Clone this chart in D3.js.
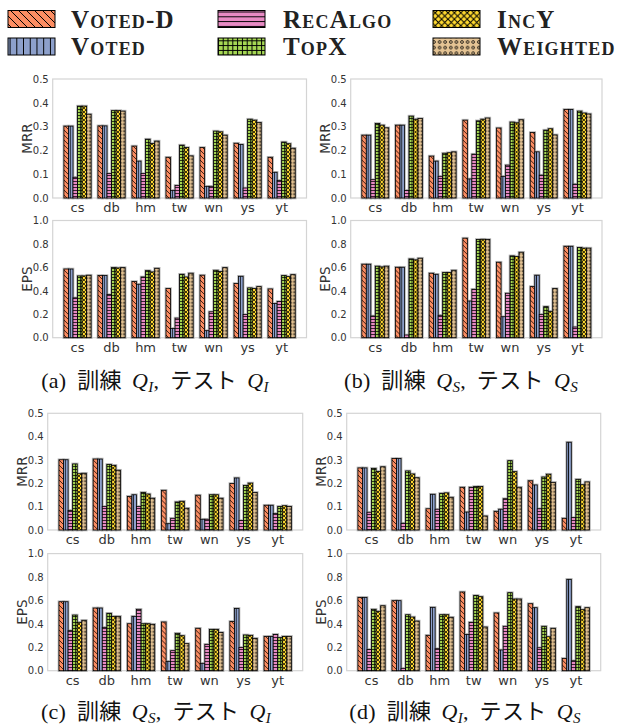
<!DOCTYPE html>
<html><head><meta charset="utf-8">
<script src="https://cdn.jsdelivr.net/npm/d3@7"></script>
<style>body{margin:0;background:#fff}svg{display:block}</style>
</head><body>
<svg id="chart" width="617" height="728"></svg>
<script>
const categories = ["cs","db","hm","tw","wn","ys","yt"];
const seriesNames = ["Voted-D","Voted","RecAlgo","TopX","IncY","Weighted"];
const seriesColors = ["#fc8d62","#8da0cb","#e78ac3","#a6d854","#ffd92f","#e5c494"];
const mrrTicks = [0,0.1,0.2,0.3,0.4,0.5];
const epsTicks = [0,0.2,0.4,0.6,0.8,1.0];
const captionLetters = ["a","b","c","d"];
const trainSubs = ["I","S","S","I"];
const testSubs = ["I","S","I","S"];

// rows: Voted-D, Voted, RecAlgo, TopX, IncY, Weighted ; columns: categories
const mrrA = [
  [0.302,0.303,0.218,0.171,0.212,0.230,0.171],
  [0.302,0.303,0.155,0.032,0.049,0.225,0.108],
  [0.087,0.103,0.103,0.053,0.049,0.042,0.074],
  [0.386,0.367,0.247,0.222,0.281,0.331,0.235],
  [0.386,0.367,0.229,0.212,0.278,0.327,0.228],
  [0.352,0.365,0.239,0.177,0.264,0.317,0.209]
];
const epsA = [
  [0.586,0.530,0.479,0.419,0.533,0.462,0.416],
  [0.586,0.530,0.456,0.079,0.060,0.524,0.292],
  [0.340,0.368,0.518,0.167,0.221,0.198,0.309],
  [0.527,0.598,0.572,0.541,0.575,0.425,0.530],
  [0.527,0.595,0.561,0.518,0.564,0.419,0.521],
  [0.533,0.598,0.592,0.550,0.598,0.436,0.538]
];
const mrrB = [
  [0.264,0.306,0.176,0.327,0.294,0.275,0.372],
  [0.264,0.306,0.155,0.080,0.091,0.194,0.372],
  [0.077,0.032,0.091,0.184,0.138,0.096,0.058],
  [0.313,0.344,0.188,0.324,0.319,0.285,0.365],
  [0.306,0.331,0.190,0.331,0.316,0.291,0.357],
  [0.295,0.334,0.194,0.336,0.329,0.265,0.353]
];
const epsB = [
  [0.627,0.601,0.550,0.849,0.644,0.436,0.780],
  [0.627,0.601,0.541,0.313,0.179,0.533,0.780],
  [0.185,0.023,0.191,0.413,0.379,0.199,0.091],
  [0.610,0.672,0.556,0.838,0.698,0.265,0.769],
  [0.604,0.664,0.556,0.840,0.692,0.225,0.764],
  [0.610,0.678,0.575,0.838,0.729,0.419,0.764]
];
const mrrC = [
  [0.301,0.304,0.144,0.170,0.149,0.199,0.106],
  [0.301,0.304,0.151,0.027,0.046,0.223,0.106],
  [0.084,0.101,0.101,0.050,0.046,0.041,0.071],
  [0.283,0.281,0.161,0.120,0.151,0.191,0.101],
  [0.241,0.277,0.154,0.123,0.151,0.201,0.104],
  [0.243,0.256,0.136,0.093,0.136,0.161,0.101]
];
const epsC = [
  [0.589,0.535,0.401,0.416,0.362,0.421,0.293],
  [0.589,0.535,0.464,0.080,0.063,0.532,0.293],
  [0.342,0.370,0.524,0.171,0.225,0.199,0.310],
  [0.475,0.490,0.401,0.319,0.353,0.305,0.282],
  [0.413,0.464,0.401,0.299,0.353,0.302,0.293],
  [0.430,0.464,0.396,0.231,0.327,0.276,0.293]
];
const mrrD = [
  [0.266,0.306,0.091,0.183,0.080,0.211,0.050],
  [0.266,0.306,0.153,0.077,0.089,0.193,0.376],
  [0.076,0.029,0.089,0.183,0.134,0.091,0.053],
  [0.264,0.253,0.157,0.186,0.297,0.227,0.217],
  [0.251,0.240,0.159,0.186,0.250,0.239,0.194],
  [0.271,0.224,0.140,0.060,0.183,0.204,0.206]
];
const epsD = [
  [0.626,0.598,0.302,0.672,0.493,0.572,0.105],
  [0.626,0.598,0.541,0.310,0.177,0.538,0.780],
  [0.182,0.020,0.188,0.413,0.379,0.196,0.085],
  [0.524,0.478,0.478,0.643,0.666,0.379,0.547],
  [0.507,0.458,0.478,0.632,0.612,0.290,0.521],
  [0.555,0.424,0.456,0.373,0.612,0.362,0.538]
];

const svg = d3.select("#chart");
const defs = svg.append("defs");

function addPattern(id, i, s, sw){
  const c = seriesColors[i];
  let P = [5,4.2,3,3,4,3.5][i]*s;
  const p = defs.append("pattern").attr("id",id).attr("patternUnits","userSpaceOnUse")
    .attr("width",P).attr("height",P);
  p.append("rect").attr("width",P).attr("height",P).attr("fill",c);
  const g = p.append("g").attr("stroke","#000").attr("stroke-width",sw).attr("fill","none");
  if(i===0){
    g.append("path").attr("d",`M-1,-1L${P+1},${P+1}M${P-1},-1L${P+1},1M-1,${P-1}L1,${P+1}`);
  } else if(i===1){
    g.append("path").attr("d",`M${P/2},0V${P}`);
  } else if(i===2){
    g.append("path").attr("d",`M0,${P/2}H${P}`);
  } else if(i===3){
    g.append("path").attr("d",`M0,${P/2}H${P}M${P/2},0V${P}`);
  } else if(i===4){
    g.append("path").attr("d",`M0,0L${P},${P}M${P},0L0,${P}`);
  } else {
    g.append("circle").attr("cx",P/2).attr("cy",P/2).attr("r",0.85*s).attr("stroke-width",sw*0.8);
  }
}
seriesNames.forEach((n,i)=>{ addPattern("pb"+i,i,1,0.75); addPattern("pl"+i,i,1.6,1.0); });

// legend
const legendCols = [[8,71],[218,283],[433,497]];
const legendRows = [19,46.5];
seriesNames.forEach((n,i)=>{
  const col = legendCols[Math.floor(i/2)], ry = legendRows[i%2];
  svg.append("rect").attr("x",col[0]).attr("y",ry-8.5).attr("width",47).attr("height",17)
    .attr("fill",`url(#pl${i})`).attr("stroke","#000").attr("stroke-width",1);
  svg.append("text").attr("x",col[1]).attr("y",ry+8.5)
    .style("font-family","'Liberation Serif',serif").style("font-weight","bold")
    .style("font-variant","small-caps").style("font-size","25px").style("letter-spacing","1.2px")
    .attr("fill","#222").text(n);
});

function drawPanel(data, ticks, ymax, label, box){
  const [x0,x1,yt,yb] = box;
  const g = svg.append("g");
  const x = d3.scaleBand().domain(categories).range([x0,x1]).paddingInner(0.2).paddingOuter(0.33);
  const xs = d3.scaleBand().domain(seriesNames).range([0,x.bandwidth()]);
  const y = d3.scaleLinear().domain([0,ymax]).range([yb,yt]);
  g.append("rect").attr("x",x0).attr("y",yt).attr("width",x1-x0).attr("height",yb-yt)
    .attr("fill","none").attr("stroke","#d4d4d4").attr("stroke-width",1.2);
  const ya = g.append("g").attr("transform",`translate(${x0},0)`)
    .call(d3.axisLeft(y).tickValues(ticks).tickSize(0).tickPadding(4).tickFormat(d3.format(".1f")));
  ya.select(".domain").remove();
  ya.selectAll("text").style("font-family","'DejaVu Sans',sans-serif").style("font-size","10px").attr("fill","#333");
  const xa = g.append("g").attr("transform",`translate(0,${yb})`)
    .call(d3.axisBottom(x).tickSize(0).tickPadding(5));
  xa.select(".domain").remove();
  xa.selectAll("text").style("font-family","'DejaVu Sans',sans-serif").style("font-size","13px").attr("fill","#333");
  g.append("text").attr("transform",`translate(${x0-25},${(yt+yb)/2}) rotate(-90)`)
    .attr("text-anchor","middle").attr("dy","0.35em")
    .style("font-family","'DejaVu Sans',sans-serif").style("font-size","13.5px").attr("fill","#333").text(label);
  categories.forEach((c,ci)=>{
    const grp = g.append("g").attr("transform",`translate(${x(c)},0)`);
    const vals = seriesNames.map((n,si)=>({n,si,v:data[si][ci]}));
    grp.selectAll("rect.halo").data(vals).join("rect").attr("class","halo")
      .attr("x",d=>xs(d.n)).attr("y",d=>y(d.v)).attr("width",xs.bandwidth()).attr("height",d=>yb-y(d.v))
      .attr("fill","none").attr("stroke","#b5b5b5").attr("stroke-width",2.6);
    grp.selectAll("rect.bar").data(vals).join("rect").attr("class","bar")
      .attr("x",d=>xs(d.n)).attr("y",d=>y(d.v)).attr("width",xs.bandwidth()).attr("height",d=>yb-y(d.v))
      .attr("fill",d=>`url(#pb${d.si})`).attr("stroke","#000").attr("stroke-width",0.8);
  });
}

drawPanel(mrrA, mrrTicks, 0.5, "MRR", [52.7,306.5,79,198]);
drawPanel(epsA, epsTicks, 1.0, "EPS", [52.7,306.5,220.5,337.7]);
drawPanel(mrrB, mrrTicks, 0.5, "MRR", [350.7,602,79,198]);
drawPanel(epsB, epsTicks, 1.0, "EPS", [350.7,602,220.5,337.7]);
drawPanel(mrrC, mrrTicks, 0.5, "MRR", [47.7,302.7,413.3,530]);
drawPanel(epsC, epsTicks, 1.0, "EPS", [47.7,302.7,553.6,670.7]);
drawPanel(mrrD, mrrTicks, 0.5, "MRR", [346.7,600.7,413.3,530]);
drawPanel(epsD, epsTicks, 1.0, "EPS", [346.7,600.7,553.6,670.7]);

const capPos = [[155,388],[461,388],[156,719],[465,719]];
captionLetters.forEach((L,i)=>{
  const t = svg.append("text").attr("x",capPos[i][0]).attr("y",capPos[i][1]).attr("text-anchor","middle")
    .style("font-size","22px").style("word-spacing","5px").style("letter-spacing","0.3px").attr("fill","#111");
  const serif = "'Liberation Serif',serif", cjk = "'Noto Sans CJK JP',sans-serif";
  t.append("tspan").style("font-family",serif).text(`(${L}) `);
  t.append("tspan").style("font-family",cjk).text("訓練 ");
  t.append("tspan").style("font-family",serif).style("font-style","italic").text("Q");
  t.append("tspan").style("font-family",serif).style("font-style","italic").style("font-size","15px").attr("dy",4).text(trainSubs[i]);
  t.append("tspan").style("font-family",serif).attr("dy",-4).text(", ");
  t.append("tspan").style("font-family",cjk).text("テスト ");
  t.append("tspan").style("font-family",serif).style("font-style","italic").text("Q");
  t.append("tspan").style("font-family",serif).style("font-style","italic").style("font-size","15px").attr("dy",4).text(testSubs[i]);
});
</script>
</body></html>
